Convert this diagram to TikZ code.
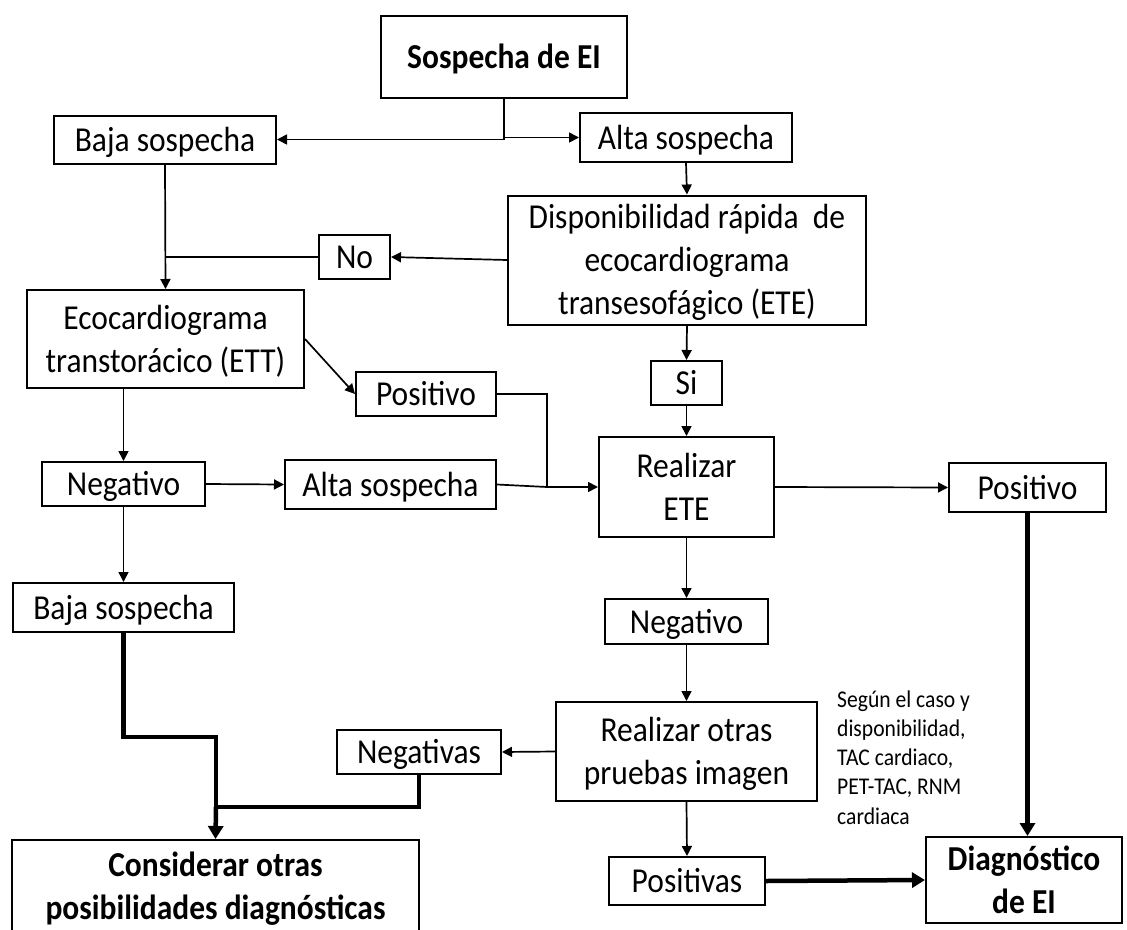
\documentclass[tikz,border=0pt]{standalone}
\usepackage{fontspec}
\setmainfont{Carlito}[FakeStretch=0.9]
\usetikzlibrary{arrows.meta,calc}
\begin{document}
\begin{tikzpicture}[x=1pt,y=-1pt,
  box/.style={draw,line width=2pt,inner sep=0pt,align=flush center,text height=33pt,text depth=10pt,
    font=\fontsize{35}{43}\selectfont},
  two/.style={text depth=53pt},
  three/.style={text depth=96pt},
  bbox/.style={box,font=\fontsize{35}{43}\selectfont\bfseries},
  arr/.style={line width=1.7pt,-{Triangle[length=10pt,width=10pt]}},
  ln/.style={line width=1.7pt},
  tarr/.style={line width=4.5pt,-{Triangle[length=13pt,width=15pt]}},
  tln/.style={line width=4.5pt}]
\useasboundingbox (0,0) rectangle (1127,929);

% nodes
\node[bbox,text width=246pt,minimum width=246pt,minimum height=82pt] (sosp) at (504,57) {Sospecha de EI};
\node[box,text width=222pt,minimum width=222pt,minimum height=48pt] (baja1) at (165,139.5) {Baja sospecha};
\node[box,text width=212pt,minimum width=212pt,minimum height=49pt] (alta1) at (686,137.5) {Alta sospecha};
\node[box,three,text width=358pt,minimum width=358pt,minimum height=128pt] (disp) at (687,260) {Disponibilidad rápida\ \ de\\ecocardiograma\\transesofágico (ETE)};
\node[box,text width=71pt,minimum width=71pt,minimum height=44pt] (no) at (354.5,257) {No};
\node[box,two,text width=277pt,minimum width=277pt,minimum height=98pt] (eco) at (165.5,339) {Ecocardiograma\\transtorácico (ETT)};
\node[box,text width=140pt,minimum width=140pt,minimum height=44pt] (pos1) at (426,394) {Positivo};
\node[box,text width=71pt,minimum width=71pt,minimum height=44pt] (si) at (686.5,383) {Si};
\node[box,two,text width=175pt,minimum width=175pt,minimum height=100pt] (real) at (686.5,487) {Realizar\\ETE};
\node[box,text width=163pt,minimum width=163pt,minimum height=44pt] (neg1) at (123.5,484) {Negativo};
\node[box,text width=211pt,minimum width=211pt,minimum height=49pt] (alta2) at (390.5,484.5) {Alta sospecha};
\node[box,text width=157pt,minimum width=157pt,minimum height=49pt] (pos2) at (1027.5,487.5) {Positivo};
\node[box,text width=221pt,minimum width=221pt,minimum height=49pt] (baja2) at (123.5,607.5) {Baja sospecha};
\node[box,text width=163pt,minimum width=163pt,minimum height=45pt] (neg2) at (686.5,621.5) {Negativo};
\node[box,two,text width=261pt,minimum width=261pt,minimum height=99pt] (otras) at (686.5,751.5) {Realizar otras\\pruebas imagen};
\node[box,text width=164pt,minimum width=164pt,minimum height=44pt] (negs) at (419,752) {Negativas};
\node[box,text width=156pt,minimum width=156pt,minimum height=48pt] (pos3) at (687,881) {Positivas};
\node[bbox,two,text width=407pt,minimum width=407pt,minimum height=92pt] (cons) at (215.5,886) {Considerar otras\\posibilidades diagnósticas};
\node[bbox,two,text width=196pt,minimum width=196pt,minimum height=82pt] (diag) at (1024,880) {Diagnóstico\\de EI};
\node[anchor=base west,align=flush left,text width=150pt,inner sep=0pt,font=\fontsize{24}{29.3}\selectfont] (note) at (837,707)
  {Según el caso y\\disponibilidad,\\TAC cardiaco,\\PET-TAC, RNM\\cardiaca};

% helper coordinates
\coordinate (k) at (547,487);
\coordinate (m1) at (216,737);
\coordinate (m2) at (216,807);

% connectors
\draw[arr] (sosp.south) |- (baja1.east);
\draw[arr] (sosp.south) |- (alta1.west);
\draw[arr] (alta1.south) -- (disp.north);
\draw[arr] (disp.west) -- (no.east);
\draw[ln] (no.west) -- (no.west -| baja1.south);
\draw[arr] (baja1.south) -- (eco.north);
\draw[arr] (eco.east) -- (pos1.west);
\draw[ln] (pos1.east) -| (k);
\draw[arr] (k) -- (real.west);
\draw[arr] (neg1.north |- eco.south) -- (neg1.north);
\draw[arr] (neg1.east) -- (alta2.west);
\draw[ln] (alta2.east) -- (k);
\draw[arr] (disp.south) -- (si.north);
\draw[arr] (si.south) -- (real.north);
\draw[arr] (real.east) -- (pos2.west);
\draw[arr] (neg1.south) -- (baja2.north);
\draw[arr] (real.south) -- (neg2.north);
\draw[arr] (neg2.south) -- (otras.north);
\draw[arr] (otras.west) -- (negs.east);
\draw[arr] (otras.south) -- (pos3.north);
\draw[tln] (baja2.south) |- (m1) -- (m2);
\draw[tarr] (m2) -- (cons.north);
\draw[tln] (negs.south) |- (m2);
\draw[tarr] (pos2.south) -- (pos2.south |- diag.north);
\draw[tarr] (pos3.east) -- (diag.west);
\end{tikzpicture}
\end{document}
